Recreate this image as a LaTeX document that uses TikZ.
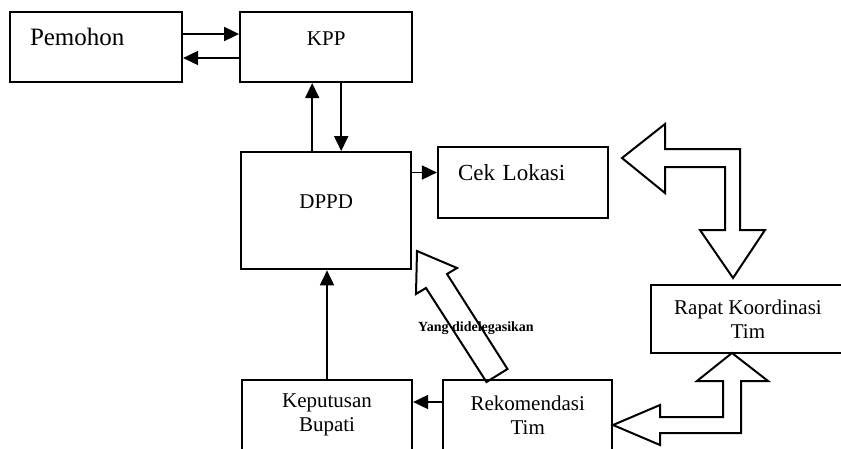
\documentclass[tikz,border=0pt]{standalone}
\usepackage{fontspec}
\setmainfont{Liberation Serif}
\usetikzlibrary{arrows.meta,positioning,calc}

\begin{document}
\begin{tikzpicture}[x=1pt,y=-1pt,->,>={Triangle[length=15pt,width=14pt]},line width=1.8pt,
    main node/.style={draw,rectangle,-,line width=2.2pt,font=\fontsize{21}{24}\selectfont,text height=16pt,text depth=20pt},
    two line/.style={draw,rectangle,-,line width=2.2pt,align=center,font=\fontsize{21}{24}\selectfont},
    block arrow/.style={draw,-,line width=2pt,line join=miter}]

            \useasboundingbox (0,0) rectangle (841,448);
            \clip (0,0) rectangle (841,448);

            \node[main node,minimum width=172pt,minimum height=70pt,text width=132pt,align=left,font=\fontsize{25}{28}\selectfont] (pemohon) at (96,47) {Pemohon};
            \node[main node,minimum width=172pt,minimum height=70pt] (kpp) [right=56pt of pemohon] {KPP};
            \node[main node,minimum width=170pt,minimum height=117pt] (dppd) [below=68pt of kpp] {DPPD};
            \node[main node,minimum width=170pt,minimum height=71pt,text width=130pt,align=left,font=\fontsize{23}{26}\selectfont] (cek) at (523,182.5) {Cek Lokasi};
            \node[two line,minimum width=194pt,minimum height=68pt] (rapat) at (748,319) {Rapat Koordinasi\\Tim};
            \node[two line,minimum width=170pt,minimum height=70pt] (keput) at (327,415) {Keputusan\\Bupati};
            \node[two line,minimum width=169pt,minimum height=70pt] (rekom) [right=29pt of keput] {Rekomendasi\\Tim};

            % hollow arrows
            \draw[block arrow] (622,158) -- (665,124) -- (665,149) -- (740,149) -- (740,230) -- (765,230)
                -- (733,278) -- (700,230) -- (725,230) -- (725,167) -- (665,167) -- (665,193) -- cycle;
            \draw[block arrow] (732,353) -- (768,381) -- (741,381) -- (741,433) -- (660,433) -- (660,445)
                -- (613,425) -- (660,405) -- (660,417) -- (723,417) -- (723,381) -- (697,381) -- cycle;
            \draw[block arrow] (417,251) -- (457,268) -- (447,274) -- (507.5,369) -- (486.5,382)
                -- (426,288) -- (416,294) -- cycle;
            \node[font=\bfseries\fontsize{14}{16}\selectfont] (deleg) at (476,328) {Yang didelegasikan};

            \path[->]
                ([yshift=13pt]pemohon.east) edge ([yshift=13pt]kpp.west)
                ([yshift=-11pt]kpp.west) edge ([yshift=-11pt]pemohon.east)
                ([xshift=15pt]kpp.south) edge ([xshift=15pt]dppd.north)
                ([xshift=-14pt]dppd.north) edge ([xshift=-14pt]kpp.south)
                ($(dppd.east|-cek.west)+(0,-10)$) edge ($(cek.west)+(0,-10)$)
                ([yshift=13pt]rekom.west) edge ([yshift=13pt]keput.east)
                (keput.north) edge (keput.north |- dppd.south)
                ;
        \end{tikzpicture}
\end{document}
